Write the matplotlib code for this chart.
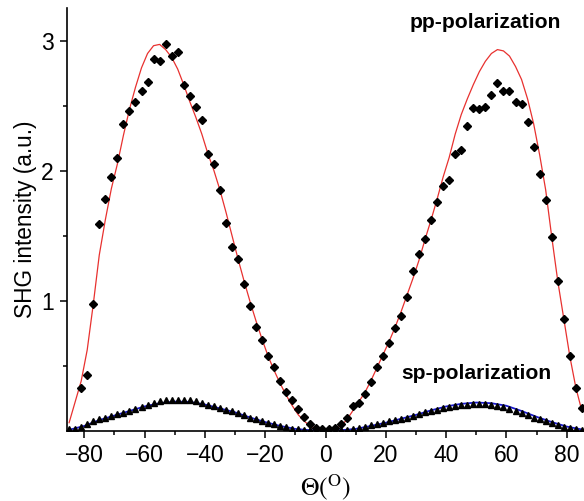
import matplotlib
matplotlib.use("Agg")
import matplotlib.pyplot as plt
import numpy as np

plt.rcParams['font.family'] = ['Liberation Sans', 'DejaVu Sans']
plt.rcParams['mathtext.fontset'] = 'stix'

# measurement angles (degrees)
theta = list(range(-85, 86, 2))

# pp-polarization data (diamonds), odd degrees -81..85
pp_theta = list(range(-81, 86, 2))
pp_data = [0.33, 0.43, 0.97, 1.59, 1.78, 1.95, 2.10, 2.36, 2.46, 2.53, 2.61, 2.68,
           2.86, 2.84, 2.97, 2.88, 2.91, 2.66, 2.57, 2.49, 2.39, 2.13, 2.05, 1.85,
           1.60, 1.41, 1.32, 1.13, 0.96, 0.80, 0.695, 0.57, 0.49, 0.38, 0.30, 0.236,
           0.167, 0.105, 0.05, 0.02, 0.01,
           0.01, 0.02, 0.05, 0.10, 0.19, 0.21, 0.28, 0.37, 0.49, 0.57, 0.67, 0.79,
           0.88, 1.03, 1.23, 1.36, 1.47, 1.62, 1.76, 1.88, 1.93, 2.13, 2.16, 2.34,
           2.48, 2.47, 2.49, 2.58, 2.67, 2.61, 2.61, 2.53, 2.51, 2.37, 2.18, 1.97,
           1.77, 1.49, 1.15, 0.86, 0.57, 0.33, 0.17]

# pp fit curve (red), at odd degrees -85..85
pp_fit = [0.06, 0.22, 0.38, 0.62, 0.97, 1.35, 1.62, 1.86, 2.05, 2.27, 2.47, 2.64,
          2.79, 2.90, 2.96, 2.97, 2.93, 2.87, 2.78, 2.66, 2.53, 2.41, 2.28, 2.13,
          2.00, 1.85, 1.68, 1.50, 1.32, 1.15, 0.99, 0.84, 0.70, 0.57, 0.46, 0.36,
          0.27, 0.19, 0.12, 0.07, 0.035, 0.012, 0.0,
          0.0, 0.012, 0.035, 0.08, 0.15, 0.22, 0.29, 0.38, 0.48, 0.58, 0.68, 0.79,
          0.91, 1.04, 1.17, 1.31, 1.47, 1.62, 1.78, 1.95, 2.10, 2.28, 2.43, 2.55,
          2.66, 2.76, 2.84, 2.90, 2.93, 2.92, 2.88, 2.80, 2.70, 2.55, 2.36, 2.12,
          1.85, 1.49, 1.15, 0.86, 0.57, 0.33, 0.15]

# sp-polarization data (triangles), odd degrees -85..85
sp_data = [0.01, 0.015, 0.03, 0.05, 0.07, 0.085, 0.10, 0.115, 0.125, 0.135, 0.15,
           0.165, 0.18, 0.195, 0.215, 0.225, 0.235, 0.235, 0.235, 0.235, 0.235,
           0.225, 0.21, 0.20, 0.19, 0.175, 0.16, 0.15, 0.135, 0.12, 0.10, 0.09,
           0.075, 0.06, 0.05, 0.035, 0.025, 0.015, 0.01, 0.005, 0.002, 0.0, 0.0,
           0.0, 0.0, 0.002, 0.005, 0.01, 0.02, 0.03, 0.04, 0.05, 0.06, 0.07, 0.08,
           0.09, 0.10, 0.115, 0.125, 0.14, 0.15, 0.16, 0.17, 0.18, 0.19, 0.195,
           0.20, 0.205, 0.205, 0.205, 0.20, 0.19, 0.18, 0.165, 0.15, 0.135, 0.12,
           0.10, 0.085, 0.07, 0.055, 0.04, 0.028, 0.018, 0.01, 0.005]

# sp fit curve (blue)
sp_fit_theta = list(range(-85, 86, 5))
sp_fit = [0.005, 0.035, 0.08, 0.115, 0.15, 0.185, 0.21, 0.222, 0.22, 0.20, 0.17,
          0.14, 0.10, 0.065, 0.035, 0.012, 0.002, 0.0, 0.002, 0.012, 0.035, 0.06,
          0.09, 0.12, 0.155, 0.185, 0.205, 0.215, 0.21, 0.19, 0.15, 0.105, 0.065,
          0.03, 0.008]

x_ticks = [-80, -60, -40, -20, 0, 20, 40, 60, 80]
y_ticks = [1, 2, 3]

fig = plt.figure(figsize=(5.84, 5.01), dpi=100)
ax = fig.add_axes([66.7 / 584, (501 - 430.5) / 501, (584 - 66.7) / 584, (430.5 - 8) / 501])

ax.plot(sp_fit_theta, sp_fit, color='#1a1acc', lw=1.3, zorder=2)
ax.plot(theta, sp_data, linestyle='none', marker='^', color='black', markersize=4.5, zorder=3)
ax.plot(theta, pp_fit, color='#e8312f', lw=0.9, zorder=2)
ax.plot(pp_theta, pp_data, linestyle='none', marker='D', color='black', markersize=4.4, zorder=4)

ax.set_xlim(-85.8, 85.7)
ax.set_ylim(0, 3.25)
ax.set_xticks(x_ticks)
ax.set_xticks([-70, -50, -30, -10, 10, 30, 50, 70], minor=True)
ax.set_yticks(y_ticks)
ax.set_yticks([0.5, 1.5, 2.5], minor=True)
ax.tick_params(axis='both', which='major', direction='out', length=5, width=1.1, labelsize=16.5, pad=4.5)
ax.tick_params(axis='both', which='minor', direction='out', length=3.2, width=1.1)

for s in ['top', 'right']:
    ax.spines[s].set_visible(False)
for s in ['left', 'bottom']:
    ax.spines[s].set_linewidth(1.2)

ax.set_ylabel('SHG intensity (a.u.)', fontsize=16.3, labelpad=3)
ax.set_xlabel(r'$\Theta(^{\mathrm{O}})$', fontsize=18.5, labelpad=4)

ax.text(53.0, 3.14, 'pp-polarization', fontsize=15.2, fontweight='bold',
        ha='center', va='center')
ax.text(50.1, 0.44, 'sp-polarization', fontsize=15.2, fontweight='bold',
        ha='center', va='center')

fig.savefig('out.png', dpi=100)
